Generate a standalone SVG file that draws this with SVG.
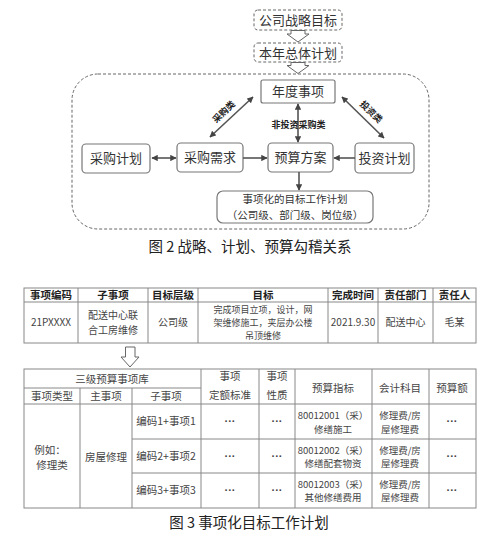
<svg xmlns="http://www.w3.org/2000/svg" width="489" height="540" viewBox="0 0 489 540">
<style>
text{font-family:"Noto Sans CJK SC","Liberation Sans",sans-serif;fill:#333;text-anchor:middle}
.dbox{fill:#fff;stroke:#666;stroke-width:1;stroke-dasharray:3 2}
.box{fill:#fff;stroke:#777;stroke-width:1.2}
.big{fill:none;stroke:#666;stroke-width:1;stroke-dasharray:3 2}
.hollow{fill:#fff;stroke:#666;stroke-width:1}
.ln{stroke:#555;stroke-width:1.6;fill:none}
.t13{font-size:13px}
.t11{font-size:10.5px}
.lbl{font-size:9px;font-weight:bold;fill:#222}
.cap{font-size:14.5px;fill:#222}
.tb{stroke:#888;stroke-width:1;fill:none}
.th{font-size:10.5px;font-weight:bold;fill:#222}
.td{font-size:10px;fill:#444}
.tds{font-size:9px;fill:#444}
.t2{font-size:10.5px;fill:#444}
.t2s{font-size:9.5px;fill:#444}
.dots{font-family:"Liberation Sans",sans-serif;font-size:11px;fill:#444;font-weight:bold}
</style>
<defs>
<marker id="ah" viewBox="0 0 10 10" refX="9" refY="5" markerWidth="4" markerHeight="4" orient="auto-start-reverse">
<path d="M0,0 L10,5 L0,10 z" fill="#444"/>
</marker>
</defs>

<g id="frame">
<rect class="big" x="72" y="74" width="357" height="155" rx="26"/>
</g>

<g id="n-strategy">
<rect class="dbox" x="254" y="10" width="88" height="20" rx="4"/>
<text class="t13" x="298" y="25">公司战略目标</text>
</g>
<g id="n-annual">
<rect class="dbox" x="254" y="43" width="88" height="19" rx="4"/>
<text class="t13" x="298" y="57.5">本年总体计划</text>
</g>
<g id="n-items">
<rect class="box" x="261" y="80" width="74" height="23" rx="2"/>
<text class="t13" x="298" y="96">年度事项</text>
</g>
<g id="n-purplan">
<rect class="box" x="82" y="144" width="68" height="29" rx="4"/>
<text class="t13" x="116" y="163">采购计划</text>
</g>
<g id="n-purneed">
<rect class="box" x="177" y="143" width="66" height="29" rx="4"/>
<text class="t13" x="210" y="162">采购需求</text>
</g>
<g id="n-budget">
<rect class="box" x="268" y="143" width="65" height="29" rx="4"/>
<text class="t13" x="300.5" y="162">预算方案</text>
</g>
<g id="n-invest">
<rect class="box" x="355" y="143" width="59" height="30" rx="4"/>
<text class="t13" x="384.5" y="162.5">投资计划</text>
</g>
<g id="n-target">
<rect class="box" x="217" y="191" width="156" height="32" rx="6"/>
<text class="t11" x="295" y="203">事项化的目标工作计划</text>
<text class="t11" x="295" y="219">（公司级、部门级、岗位级）</text>
</g>

<g id="connectors">
<polygon class="hollow" points="291,30.5 305,30.5 305,34 309,34 298,42 287,34 291,34"/>
<polygon class="hollow" points="291,62.5 305,62.5 305,65.5 309,65.5 298,73.5 287,65.5 291,65.5"/>
<line class="ln" x1="152" y1="158" x2="176" y2="158" marker-start="url(#ah)" marker-end="url(#ah)"/>
<line class="ln" x1="243" y1="158" x2="267" y2="158" marker-end="url(#ah)"/>
<line class="ln" x1="355" y1="158" x2="334" y2="158" marker-end="url(#ah)"/>
<line class="ln" x1="299" y1="172" x2="299" y2="190" marker-end="url(#ah)"/>
<line class="ln" x1="298" y1="104" x2="298" y2="142" marker-start="url(#ah)" marker-end="url(#ah)"/>
<line class="ln" x1="210" y1="137" x2="253" y2="97" marker-start="url(#ah)" marker-end="url(#ah)"/>
<line class="ln" x1="342" y1="97" x2="384" y2="138" marker-start="url(#ah)" marker-end="url(#ah)"/>
<text class="lbl" x="298.5" y="128">非投资采购类</text>
<text class="lbl" x="224" y="115" transform="rotate(-44 224 112)">采购类</text>
<text class="lbl" x="371" y="115" transform="rotate(44 371 112)">投资类</text>
</g>

<text class="cap" x="250" y="252">图 2  战略、计划、预算勾稽关系</text>

<g id="table1">
<rect class="tb" x="24" y="288" width="452" height="55"/>
<line class="tb" x1="24" y1="302" x2="476" y2="302"/>
<line class="tb" x1="78" y1="288" x2="78" y2="343"/>
<line class="tb" x1="148" y1="288" x2="148" y2="343"/>
<line class="tb" x1="198" y1="288" x2="198" y2="343"/>
<line class="tb" x1="328" y1="288" x2="328" y2="343"/>
<line class="tb" x1="378" y1="288" x2="378" y2="343"/>
<line class="tb" x1="433" y1="288" x2="433" y2="343"/>
<text class="th" x="51" y="299">事项编码</text>
<text class="th" x="113" y="299">子事项</text>
<text class="th" x="173" y="299">目标层级</text>
<text class="th" x="263" y="299">目标</text>
<text class="th" x="353" y="299">完成时间</text>
<text class="th" x="405.5" y="299">责任部门</text>
<text class="th" x="454.5" y="299">责任人</text>
<text class="td" x="51" y="326">21PXXXX</text>
<text class="td" x="113" y="319">配送中心联</text>
<text class="td" x="113" y="333.5">合工房维修</text>
<text class="td" x="173" y="326">公司级</text>
<text class="tds" x="263" y="313">完成项目立项，设计，网</text>
<text class="tds" x="263" y="326">架维修施工，夹层办公楼</text>
<text class="tds" x="263" y="339">吊顶维修</text>
<text class="td" x="353" y="326">2021.9.30</text>
<text class="td" x="405.5" y="326">配送中心</text>
<text class="td" x="454.5" y="326">毛某</text>
</g>

<g id="down-arrow">
<polygon class="hollow" points="125.5,347 135,347 135,357 139,357 130,367 121,357 125.5,357"/>
</g>

<g id="table2">
<rect class="tb" x="24" y="369" width="452" height="139"/>
<line class="tb" x1="24" y1="388" x2="201" y2="388"/>
<line class="tb" x1="24" y1="404" x2="476" y2="404"/>
<line class="tb" x1="132" y1="439" x2="476" y2="439"/>
<line class="tb" x1="132" y1="473" x2="476" y2="473"/>
<line class="tb" x1="80" y1="388" x2="80" y2="508"/>
<line class="tb" x1="132" y1="388" x2="132" y2="508"/>
<line class="tb" x1="201" y1="369" x2="201" y2="508"/>
<line class="tb" x1="259" y1="369" x2="259" y2="508"/>
<line class="tb" x1="295" y1="369" x2="295" y2="508"/>
<line class="tb" x1="372" y1="369" x2="372" y2="508"/>
<line class="tb" x1="429" y1="369" x2="429" y2="508"/>
<text class="t2" x="112" y="383">三级预算事项库</text>
<text class="t2" x="52" y="400">事项类型</text>
<text class="t2" x="106" y="400">主事项</text>
<text class="t2" x="166" y="400">子事项</text>
<text class="t2" x="230" y="380">事项</text>
<text class="t2" x="230" y="399">定额标准</text>
<text class="t2" x="277" y="380">事项</text>
<text class="t2" x="277" y="399">性质</text>
<text class="t2" x="333" y="392">预算指标</text>
<text class="t2" x="400" y="392">会计科目</text>
<text class="t2" x="452" y="392">预算额</text>
<text class="t2" x="50" y="454">例如：</text>
<text class="t2" x="52" y="469">修理类</text>
<text class="t2" x="106" y="461">房屋修理</text>
<text class="t2" x="166" y="425">编码1+事项1</text>
<text class="t2" x="166" y="460">编码2+事项2</text>
<text class="t2" x="166" y="494">编码3+事项3</text>
<text class="dots" x="230" y="425">···</text>
<text class="dots" x="230" y="460">···</text>
<text class="dots" x="230" y="494">···</text>
<text class="dots" x="277" y="425">···</text>
<text class="dots" x="277" y="460">···</text>
<text class="dots" x="277" y="494">···</text>
<text class="dots" x="452" y="425">···</text>
<text class="dots" x="452" y="460">···</text>
<text class="dots" x="452" y="494">···</text>
<text class="t2s" x="333" y="419">80012001（采）</text>
<text class="t2s" x="333" y="432.5">修缮施工</text>
<text class="t2s" x="333" y="453.5">80012002（采）</text>
<text class="t2s" x="333" y="467">修缮配套物资</text>
<text class="t2s" x="333" y="487.5">80012003（采）</text>
<text class="t2s" x="333" y="501">其他修缮费用</text>
<text class="t2s" x="400" y="419">修理费/房</text>
<text class="t2s" x="400" y="432.5">屋修理费</text>
<text class="t2s" x="400" y="453.5">修理费/房</text>
<text class="t2s" x="400" y="467">屋修理费</text>
<text class="t2s" x="400" y="487.5">修理费/房</text>
<text class="t2s" x="400" y="501">屋修理费</text>
</g>

<text class="cap" x="249" y="528">图 3 事项化目标工作计划</text>
</svg>
